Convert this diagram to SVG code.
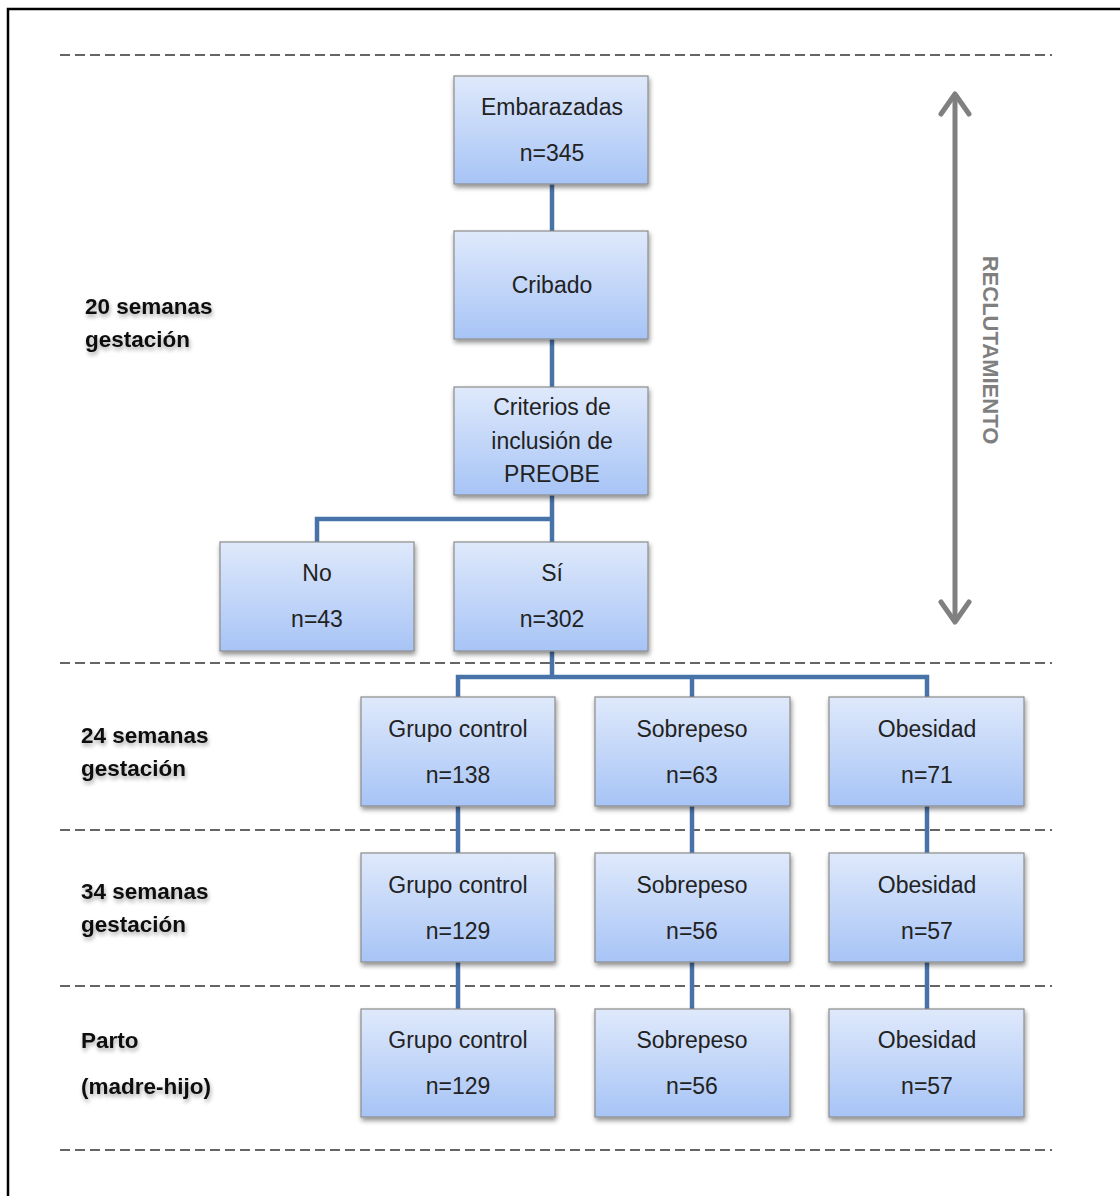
<svg xmlns="http://www.w3.org/2000/svg" width="1120" height="1196" viewBox="0 0 1120 1196">
<defs>
<linearGradient id="g" x1="0" y1="0" x2="0" y2="1">
<stop offset="0" stop-color="#dfe9fb"/>
<stop offset="1" stop-color="#a7c4f6"/>
</linearGradient>
<filter id="sh" x="-10%" y="-10%" width="130%" height="140%">
<feGaussianBlur in="SourceAlpha" stdDeviation="2.5"/>
<feOffset dx="1" dy="3" result="b"/>
<feComponentTransfer><feFuncA type="linear" slope="0.45"/></feComponentTransfer>
<feMerge><feMergeNode/><feMergeNode in="SourceGraphic"/></feMerge>
</filter>
<filter id="tsh" x="-10%" y="-30%" width="130%" height="180%">
<feGaussianBlur in="SourceAlpha" stdDeviation="2"/>
<feOffset dx="1" dy="3"/>
<feComponentTransfer><feFuncA type="linear" slope="0.35"/></feComponentTransfer>
<feMerge><feMergeNode/><feMergeNode in="SourceGraphic"/></feMerge>
</filter>
</defs>
<style>
.box{fill:url(#g);stroke:#8c8c8c;stroke-width:1.2;filter:url(#sh)}
.t{font-family:"Liberation Sans",Arial,sans-serif;font-size:23px;fill:#222;text-anchor:middle}
.lab{font-family:"Liberation Sans",Arial,sans-serif;font-size:22.5px;font-weight:bold;fill:#111;filter:url(#tsh)}
.dash{stroke:#333;stroke-width:1.5;stroke-dasharray:10 5;fill:none}
.con{stroke:#4873a8;stroke-width:4.5;fill:none}
.arr{fill:none;stroke:#808080;stroke-width:5;stroke-linecap:round;stroke-linejoin:round}
</style>
<rect x="0" y="0" width="1120" height="1196" fill="#fff"/>
<path d="M8 1200 V9 H1125" fill="none" stroke="#000" stroke-width="2.5"/>
<g id="dashes">
<line class="dash" x1="60" y1="55" x2="1052" y2="55"/>
<line class="dash" x1="60" y1="663" x2="1052" y2="663"/>
<line class="dash" x1="60" y1="830" x2="1052" y2="830"/>
<line class="dash" x1="60" y1="986" x2="1052" y2="986"/>
<line class="dash" x1="60" y1="1150" x2="1052" y2="1150"/>
</g>
<g id="connectors">
<line class="con" x1="552" y1="184" x2="552" y2="231"/>
<line class="con" x1="552" y1="339" x2="552" y2="387"/>
<line class="con" x1="552" y1="495" x2="552" y2="542"/>
<polyline class="con" points="317,542 317,519 552,519"/>
<line class="con" x1="552" y1="651" x2="552" y2="677"/>
<polyline class="con" points="458,697 458,677 927,677 927,697"/>
<line class="con" x1="692" y1="677" x2="692" y2="697"/>
<line class="con" x1="458" y1="806" x2="458" y2="853"/>
<line class="con" x1="692" y1="806" x2="692" y2="853"/>
<line class="con" x1="927" y1="806" x2="927" y2="853"/>
<line class="con" x1="458" y1="962" x2="458" y2="1009"/>
<line class="con" x1="692" y1="962" x2="692" y2="1009"/>
<line class="con" x1="927" y1="962" x2="927" y2="1009"/>
</g>
<g id="reclutamiento">
<line x1="955" y1="94" x2="955" y2="622" stroke="#808080" stroke-width="5"/>
<polyline class="arr" points="941,114 955,94 969,114"/>
<polyline class="arr" points="941,602 955,622 969,602"/>
<text transform="translate(983,350) rotate(90)" font-family="Liberation Sans,Arial,sans-serif" font-size="22" font-weight="bold" fill="#7f7f7f" text-anchor="middle">RECLUTAMIENTO</text>
</g>
<g id="n-embarazadas"><rect class="box" x="454" y="76" width="194" height="108"/><text class="t" x="552" y="115">Embarazadas</text><text class="t" x="552" y="161">n=345</text></g>
<g id="n-cribado"><rect class="box" x="454" y="231" width="194" height="108"/><text class="t" x="552" y="293">Cribado</text></g>
<g id="n-criterios"><rect class="box" x="454" y="387" width="194" height="108"/><text class="t" x="552" y="415">Criterios de</text><text class="t" x="552" y="449">inclusión de</text><text class="t" x="552" y="482">PREOBE</text></g>
<g id="n-no"><rect class="box" x="220" y="542" width="194" height="109"/><text class="t" x="317" y="581">No</text><text class="t" x="317" y="627">n=43</text></g>
<g id="n-si"><rect class="box" x="454" y="542" width="194" height="109"/><text class="t" x="552" y="581">Sí</text><text class="t" x="552" y="627">n=302</text></g>
<g id="n-c24"><rect class="box" x="361" y="697" width="194" height="109"/><text class="t" x="458" y="737">Grupo control</text><text class="t" x="458" y="783">n=138</text></g>
<g id="n-s24"><rect class="box" x="595" y="697" width="195" height="109"/><text class="t" x="692" y="737">Sobrepeso</text><text class="t" x="692" y="783">n=63</text></g>
<g id="n-o24"><rect class="box" x="829" y="697" width="195" height="109"/><text class="t" x="927" y="737">Obesidad</text><text class="t" x="927" y="783">n=71</text></g>
<g id="n-c34"><rect class="box" x="361" y="853" width="194" height="109"/><text class="t" x="458" y="893">Grupo control</text><text class="t" x="458" y="939">n=129</text></g>
<g id="n-s34"><rect class="box" x="595" y="853" width="195" height="109"/><text class="t" x="692" y="893">Sobrepeso</text><text class="t" x="692" y="939">n=56</text></g>
<g id="n-o34"><rect class="box" x="829" y="853" width="195" height="109"/><text class="t" x="927" y="893">Obesidad</text><text class="t" x="927" y="939">n=57</text></g>
<g id="n-cp"><rect class="box" x="361" y="1009" width="194" height="108"/><text class="t" x="458" y="1048">Grupo control</text><text class="t" x="458" y="1094">n=129</text></g>
<g id="n-sp"><rect class="box" x="595" y="1009" width="195" height="108"/><text class="t" x="692" y="1048">Sobrepeso</text><text class="t" x="692" y="1094">n=56</text></g>
<g id="n-op"><rect class="box" x="829" y="1009" width="195" height="108"/><text class="t" x="927" y="1048">Obesidad</text><text class="t" x="927" y="1094">n=57</text></g>
<g id="labels">
<text class="lab" x="85" y="314">20 semanas</text>
<text class="lab" x="85" y="347">gestación</text>
<text class="lab" x="81" y="743">24 semanas</text>
<text class="lab" x="81" y="776">gestación</text>
<text class="lab" x="81" y="899">34 semanas</text>
<text class="lab" x="81" y="932">gestación</text>
<text class="lab" x="81" y="1048">Parto</text>
<text class="lab" x="81" y="1094">(madre-hijo)</text>
</g>
</svg>
